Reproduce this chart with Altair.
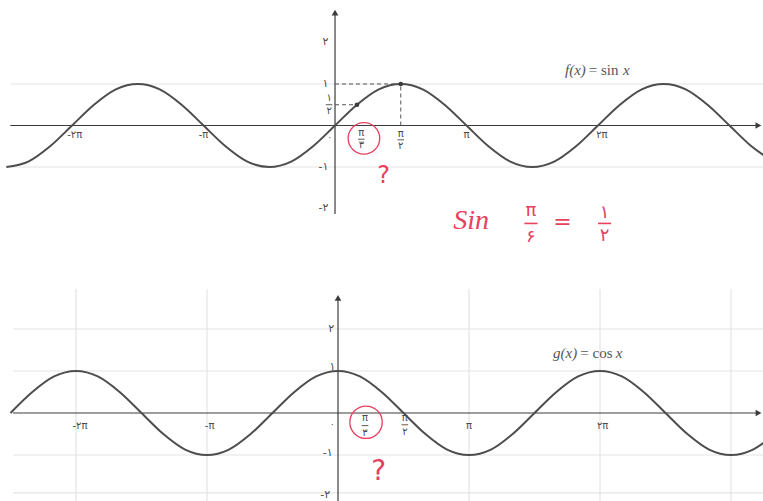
import altair as alt
import pandas as pd

# Sample positions along x, in multiples of pi
x_pi = [-2.5, -2.333, -2.167, -2.0, -1.833, -1.667, -1.5, -1.333, -1.167, -1.0,
        -0.833, -0.667, -0.5, -0.333, -0.167, 0.0, 0.167, 0.333, 0.5, 0.667,
        0.833, 1.0, 1.167, 1.333, 1.5, 1.667, 1.833, 2.0, 2.167, 2.333,
        2.5, 2.667, 2.833, 3.0, 3.167, 3.333]

# f(x) = sin x
sin_vals = [-1, -0.87, -0.5, 0, 0.5, 0.87, 1, 0.87, 0.5, 0,
            -0.5, -0.87, -1, -0.87, -0.5, 0, 0.5, 0.87, 1, 0.87,
            0.5, 0, -0.5, -0.87, -1, -0.87, -0.5, 0, 0.5, 0.87,
            1, 0.87, 0.5, 0, -0.5, -0.87]

# g(x) = cos x
cos_vals = [0, 0.5, 0.87, 1, 0.87, 0.5, 0, -0.5, -0.87, -1,
            -0.87, -0.5, 0, 0.5, 0.87, 1, 0.87, 0.5, 0, -0.5,
            -0.87, -1, -0.87, -0.5, 0, 0.5, 0.87, 1, 0.87, 0.5,
            0, -0.5, -0.87, -1, -0.87, -0.5]

# Tick labels (Persian digits)
x_tick_text = ["-۲π", "-π", "π", "۲π"]
y_tick_text = ["۲", "۱", "-۱", "-۲"]
y_tick_vals = [2, 1, -1, -2]

INK = "#3c3c3c"
LABEL = "#4a4a4a"
GRID = "#e4e4e4"
PEN = "#e8405f"
TITLE = "#555555"

W = 763
TOP_H, BOT_H = 260, 241
TOP_X, TOP_Y = [-2.548, 3.255], [-3.241, 3.024]
BOT_X, BOT_Y = [-2.580, 3.244], [-2.095, 3.643]


def enc(xd, yd):
    return dict(
        x=alt.X("x:Q", scale=alt.Scale(domain=xd, nice=False, zero=False), axis=None),
        y=alt.Y("y:Q", scale=alt.Scale(domain=yd, nice=False, zero=False), axis=None),
    )


def rules(df, xd, yd, color, width=1.0, dash=None):
    kw = dict(color=color, strokeWidth=width, clip=True)
    if dash:
        kw["strokeDash"] = dash
    return alt.Chart(df).mark_rule(**kw).encode(**enc(xd, yd), x2="x2:Q", y2="y2:Q")


def texts(df, xd, yd, size, color=LABEL, font="DejaVu Sans", style="normal",
          align="center"):
    return alt.Chart(df).mark_text(
        fontSize=size, color=color, font=font, fontStyle=style, align=align,
        baseline="middle"
    ).encode(**enc(xd, yd), text="t:N")


def points(df, xd, yd, shape, size, color=INK, filled=True, width=1.0):
    return alt.Chart(df).mark_point(
        shape=shape, size=size, filled=filled, color=color, opacity=1,
        strokeWidth=width
    ).encode(**enc(xd, yd))


def curve(vals, xd, yd):
    df = pd.DataFrame({"x": x_pi, "y": vals})
    return alt.Chart(df).mark_line(
        color="#4d4d4d", strokeWidth=2.0, interpolate="monotone", clip=True
    ).encode(**enc(xd, yd))


def title(xs, y, parts, xd, yd):
    # function name in italics, "= sin"/"= cos" upright, variable in italics
    styles = ["italic", "normal", "italic"]
    return [texts(pd.DataFrame({"x": [x0], "y": [y], "t": [p]}), xd, yd, 15,
                  color=TITLE, font="Liberation Serif", style=s, align="left")
            for x0, p, s in zip(xs, parts, styles)]


# ---------------- top panel: f(x) = sin x ----------------
xd, yd = TOP_X, TOP_Y
top_grid = pd.DataFrame({"x": [-2.47, -2.47], "x2": [3.3, 3.3],
                         "y": [1, -1], "y2": [1, -1]})
top_axes = pd.DataFrame({"x": [-2.47, 0], "x2": [3.22, 0],
                         "y": [0, -2.13], "y2": [0, 2.7]})
top_guides = pd.DataFrame({"x": [0, 0, 0.5], "x2": [0.5, 0.167, 0.5],
                           "y": [1, 0.5, 0], "y2": [1, 0.5, 1]})
top_dots = pd.DataFrame({"x": [0.167, 0.5], "y": [0.5, 1]})
top_up = pd.DataFrame({"x": [0], "y": [2.72]})
top_right = pd.DataFrame({"x": [3.22], "y": [0]})

top_xlab = pd.DataFrame({"x": [-1.98, -1.0, 1.0, 2.03], "y": [-0.23] * 4,
                         "t": x_tick_text})
top_ylab = pd.DataFrame({"x": [-0.05] * 4, "y": y_tick_vals, "t": y_tick_text})
top_zero = pd.DataFrame({"x": [-0.04], "y": [-0.28], "t": ["۰"]})
top_frac = pd.DataFrame({
    "x": [-0.045, -0.045, 0.2, 0.2, 0.5, 0.5],
    "y": [0.66, 0.35, -0.18, -0.47, -0.2, -0.49],
    "t": ["۱", "۲", "π", "۳", "π", "۲"]})
top_bars = pd.DataFrame({"x": [-0.07, 0.175, 0.475], "x2": [-0.02, 0.225, 0.525],
                         "y": [0.5, -0.33, -0.345], "y2": [0.5, -0.33, -0.345]})

# handwritten notes
top_circle = pd.DataFrame({"x": [0.22], "y": [-0.31]})
top_q = pd.DataFrame({"x": [0.37], "y": [-1.22], "t": ["?"]})
note_sin = pd.DataFrame({"x": [1.035], "y": [-2.3], "t": ["Sin"]})
note_frac = pd.DataFrame({"x": [1.49, 1.49, 2.05, 2.05],
                          "y": [-2.06, -2.68, -2.1, -2.66],
                          "t": ["π", "۶", "۱", "۲"]})
note_bars = pd.DataFrame({"x": [1.44, 2.0], "x2": [1.54, 2.1],
                          "y": [-2.36, -2.36], "y2": [-2.36, -2.36]})
note_eq = pd.DataFrame({"x": [1.73], "y": [-2.33], "t": ["="]})

top = alt.layer(
    rules(top_grid, xd, yd, GRID, 1.2),
    rules(top_axes, xd, yd, INK, 1.2),
    rules(top_guides, xd, yd, "#555555", 1.0, [4, 3]),
    curve(sin_vals, xd, yd),
    points(top_dots, xd, yd, "circle", 22),
    points(top_up, xd, yd, "triangle-up", 45),
    points(top_right, xd, yd, "triangle-right", 45),
    texts(top_xlab, xd, yd, 10),
    texts(top_ylab, xd, yd, 11, align="right"),
    texts(top_zero, xd, yd, 9),
    texts(top_frac, xd, yd, 10),
    rules(top_bars, xd, yd, LABEL, 0.9),
    *title([1.749, 1.93, 2.19], 1.34, ["f(x)", "= sin", "x"], xd, yd),
    points(top_circle, xd, yd, "circle", 1000, color=PEN, filled=False, width=1.3),
    texts(top_q, xd, yd, 24, color=PEN),
    texts(note_sin, xd, yd, 28, color=PEN, font="Liberation Serif", style="italic"),
    texts(note_frac, xd, yd, 18, color=PEN),
    rules(note_bars, xd, yd, PEN, 1.6),
    texts(note_eq, xd, yd, 22, color=PEN),
).properties(width=W, height=TOP_H)

# ---------------- bottom panel: g(x) = cos x ----------------
xd, yd = BOT_X, BOT_Y
bot_grid_h = pd.DataFrame({"x": [-2.48] * 4, "x2": [3.3] * 4,
                           "y": [2, 1, -1, -1.9], "y2": [2, 1, -1, -1.9]})
bot_grid_v = pd.DataFrame({"x": [-2, -1, 1, 2, 3], "x2": [-2, -1, 1, 2, 3],
                           "y": [-2.1] * 5, "y2": [2.95] * 5})
bot_axes = pd.DataFrame({"x": [-2.48, 0], "x2": [3.21, 0],
                         "y": [0, -2.1], "y2": [0, 2.72]})
bot_up = pd.DataFrame({"x": [0], "y": [2.74]})
bot_right = pd.DataFrame({"x": [3.21], "y": [0]})

bot_xlab = pd.DataFrame({"x": [-1.97, -0.98, 1.0, 2.02], "y": [-0.3] * 4,
                         "t": x_tick_text})
bot_ylab = pd.DataFrame({"x": [-0.03, -0.02, -0.04, -0.06],
                         "y": [2.0, 1.1, -0.95, -1.95], "t": y_tick_text})
bot_zero = pd.DataFrame({"x": [-0.045], "y": [-0.25], "t": ["۰"]})
bot_frac = pd.DataFrame({"x": [0.206, 0.206, 0.51, 0.51],
                         "y": [-0.13, -0.48, -0.11, -0.45],
                         "t": ["π", "۳", "π", "۲"]})
bot_bars = pd.DataFrame({"x": [0.18, 0.485], "x2": [0.232, 0.535],
                         "y": [-0.3, -0.28], "y2": [-0.3, -0.28]})

bot_circle = pd.DataFrame({"x": [0.214], "y": [-0.22]})
bot_q = pd.DataFrame({"x": [0.31], "y": [-1.4], "t": ["?"]})

bottom = alt.layer(
    rules(bot_grid_h, xd, yd, GRID, 1.2),
    rules(bot_grid_v, xd, yd, GRID, 1.2),
    rules(bot_axes, xd, yd, INK, 1.2),
    curve(cos_vals, xd, yd),
    points(bot_up, xd, yd, "triangle-up", 45),
    points(bot_right, xd, yd, "triangle-right", 45),
    texts(bot_xlab, xd, yd, 10),
    texts(bot_ylab, xd, yd, 11, align="right"),
    texts(bot_zero, xd, yd, 9),
    texts(bot_frac, xd, yd, 10),
    rules(bot_bars, xd, yd, LABEL, 0.9),
    *title([1.641, 1.85, 2.12], 1.43, ["g(x)", "= cos", "x"], xd, yd),
    points(bot_circle, xd, yd, "circle", 1050, color=PEN, filled=False, width=1.3),
    texts(bot_q, xd, yd, 28, color=PEN),
).properties(width=W, height=BOT_H)

chart = alt.vconcat(top, bottom, spacing=0).properties(
    padding=0, background="white"
).configure_view(stroke=None)

chart.save("out.html", embed_options={"renderer": "svg", "actions": False})
